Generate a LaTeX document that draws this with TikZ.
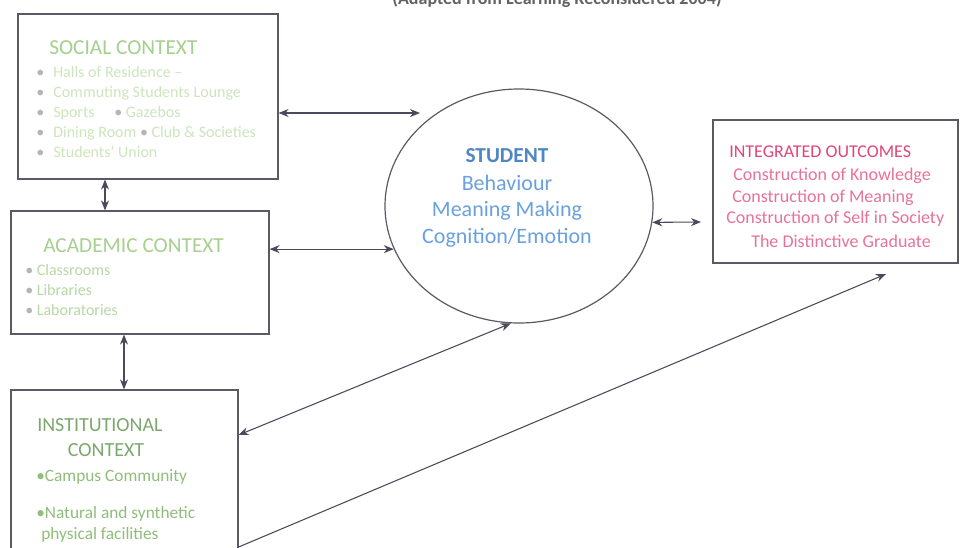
\documentclass[tikz,border=0pt]{standalone}
\usepackage{fontspec}
\setmainfont{Carlito}
\usetikzlibrary{arrows.meta,shapes.geometric}
\definecolor{boxc}{HTML}{5A5A66}
\definecolor{arrc}{HTML}{4A4A5C}
\definecolor{soct}{HTML}{A3D08C}
\definecolor{socb}{HTML}{CDE5BC}
\definecolor{acat}{HTML}{A6CF90}
\definecolor{acab}{HTML}{B8D9A4}
\definecolor{inst}{HTML}{7DA86D}
\definecolor{insb}{HTML}{8FBE7A}
\definecolor{stut}{HTML}{4F86C6}
\definecolor{stub}{HTML}{6AA1DD}
\definecolor{outt}{HTML}{E0457A}
\definecolor{outb}{HTML}{E8729B}
\definecolor{dotc}{HTML}{B5B5B5}
\begin{document}
\begin{tikzpicture}[x=0.75pt,y=-0.75pt,
  box/.style={draw=boxc,line width=0.9pt,rectangle,inner sep=0pt},
  oval/.style={draw=boxc,line width=0.9pt,ellipse,inner sep=0pt},
  bi/.style={{Stealth[length=7.5pt,width=6pt]}-{Stealth[length=7.5pt,width=6pt]},draw=arrc,line width=0.8pt},
  uni/.style={-{Stealth[length=7.5pt,width=6pt]},draw=arrc,line width=0.8pt},
  txt/.style={inner sep=0pt,anchor=base west},
  ctxt/.style={inner sep=0pt,anchor=base}]
\useasboundingbox (0,0) rectangle (961,547);
\clip (0,0) rectangle (961,547);
\fill[white] (0,0) rectangle (961,547);

% title (cut off at top)
\node[ctxt,font=\bfseries\fontsize{13.5}{16}\selectfont,text=black!62] (title) at (557,4) {(Adapted from Learning Reconsidered 2004)};

% boxes
\node[box,minimum width=195pt,minimum height=123.75pt] (social) at (148,96.5) {};
\node[box,minimum width=193.5pt,minimum height=92.25pt] (academic) at (140,272.5) {};
\node[box,minimum width=170.25pt,minimum height=157.5pt] (inst) at (124.5,495) {};
\node[box,minimum width=183.75pt,minimum height=107.25pt] (outcomes) at (835.5,191.5) {};
\node[oval,minimum width=201pt,minimum height=175.5pt] (student) at (519,206) {};

% social text
\node[txt,font=\fontsize{16}{19}\selectfont,text=soct] (st) at (49,54) {SOCIAL CONTEXT};
\begin{scope}[font=\fontsize{12}{14}\selectfont]
\node[txt,text=dotc] (sd1) at (36,77) {•};
\node[txt,text=dotc] (sd2) at (36,97) {•};
\node[txt,text=dotc] (sd3) at (36,117) {•};
\node[txt,text=dotc] (sd4) at (36,137) {•};
\node[txt,text=dotc] (sd5) at (36,157) {•};
\node[txt,text=socb] (s1) at (53,77) {Halls of Residence –};
\node[txt,text=socb] (s2) at (53,97) {Commuting Students Lounge};
\node[txt,text=socb] (s3) at (53,117) {Sports\quad\ \textcolor{dotc}{•} Gazebos};
\node[txt,text=socb] (s4) at (53,137) {Dining Room \textcolor{dotc}{•} Club \& Societies};
\node[txt,text=socb] (s5) at (53,157) {Students’ Union};
\end{scope}

% academic text
\node[txt,font=\fontsize{16}{19}\selectfont,text=acat] (at) at (43,252) {ACADEMIC CONTEXT};
\begin{scope}[font=\fontsize{12}{14}\selectfont]
\node[txt,text=acab] (a1) at (25,275) {\textcolor{dotc}{•} Classrooms};
\node[txt,text=acab] (a2) at (25,295) {\textcolor{dotc}{•} Libraries};
\node[txt,text=acab] (a3) at (25,315) {\textcolor{dotc}{•} Laboratories};
\end{scope}

% institutional text
\node[txt,font=\fontsize{15}{18}\selectfont,text=inst] (it1) at (37,431) {INSTITUTIONAL};
\node[ctxt,font=\fontsize{15}{18}\selectfont,text=inst] (it2) at (106,456) {CONTEXT};
\begin{scope}[font=\fontsize{13}{15}\selectfont]
\node[txt,text=insb] (i1) at (36,481) {•Campus Community};
\node[txt,text=insb] (i2) at (36,518) {•Natural and synthetic};
\node[txt,text=insb] (i3) at (41,539) {physical facilities};
\end{scope}

% student text
\node[ctxt,font=\bfseries\fontsize{16}{19}\selectfont,text=stut] (su0) at (507,162) {STUDENT};
\begin{scope}[font=\fontsize{16.5}{19}\selectfont,text=stub]
\node[ctxt] (su1) at (507,190) {Behaviour};
\node[ctxt] (su2) at (507,216) {Meaning Making};
\node[ctxt] (su3) at (507,243) {Cognition/Emotion};
\end{scope}

% outcomes text
\node[txt,font=\fontsize{13.5}{16}\selectfont,text=outt] (ot) at (729,157) {INTEGRATED OUTCOMES};
\begin{scope}[font=\fontsize{13.5}{16}\selectfont,text=outb]
\node[txt] (o1) at (733,180) {Construction of Knowledge};
\node[txt] (o2) at (732,202) {Construction of Meaning};
\node[txt] (o3) at (726,223) {Construction of Self in Society};
\node[txt] (o4) at (751,247) {The Distinctive Graduate};
\end{scope}

% connectors
\coordinate (p1) at (420,113);
\coordinate (v1) at (105,0);
\coordinate (v2) at (124,0);
\coordinate (p3) at (701,222);
\coordinate (p6) at (0,435);
\coordinate (p7a) at (0,547);
\coordinate (p7) at (886,274);
\draw[bi] (social.east |- p1) -- (p1);
\draw[bi] (academic.east |- student.199) -- (student.199);
\draw[bi] (student.-7) -- (p3);
\draw[bi] (social.south -| v1) -- (academic.north -| v1);
\draw[bi] (academic.south -| v2) -- (inst.north -| v2);
\draw[bi] (inst.east |- p6) -- (student.266);
\draw[uni] (inst.east |- p7a) -- (p7);
\end{tikzpicture}
\end{document}
